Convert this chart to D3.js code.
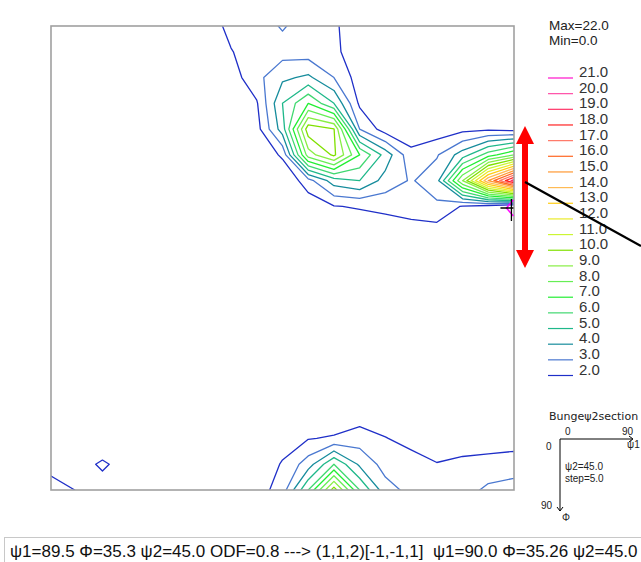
<!DOCTYPE html>
<html><head><meta charset="utf-8">
<script src="https://cdn.jsdelivr.net/npm/d3@7/dist/d3.min.js"></script>
<style>body{margin:0;background:#fff}svg{display:block}text{font-family:"Liberation Sans",Arial,sans-serif}</style>
</head><body>
<script>
// phi1 (columns, 0..90 step 5) and Phi (rows, 0..90 step 5)
const phi1Values = d3.range(0, 95, 5);
const PhiValues = d3.range(0, 95, 5);
// ODF section values (psi2 = 45), row = Phi, column = phi1
const odfRows = [
 [0.6,0.7,0.8,0.9,1.0,1.1,1.4,2.3,2.5,3.1,2.5,2.2,1.2,0.8,0.6,0.5,0.5,0.4,0.4],
 [0.6,0.6,0.7,0.8,0.9,1.0,1.2,1.95,2.5,2.6,2.5,2.3,1.2,0.8,0.6,0.5,0.5,0.4,0.4],
 [0.5,0.6,0.6,0.7,0.8,0.9,1.0,1.5,2.7,3.8,4.2,3.0,1.5,1.0,0.7,0.6,0.6,0.5,0.5],
 [0.5,0.5,0.6,0.6,0.7,0.8,0.9,1.0,1.9,5.0,7.0,5.0,1.8,1.2,1.0,1.0,1.1,1.2,1.3],
 [0.4,0.5,0.5,0.6,0.6,0.7,0.7,0.8,1.6,4.5,10.6,10.05,3.0,1.5,1.3,1.4,1.7,1.8,1.6],
 [0.4,0.4,0.5,0.5,0.5,0.6,0.6,0.6,1.0,2.2,8.5,10.2,7.0,4.6,2.3,2.9,4.5,6.5,8.0],
 [0.4,0.4,0.4,0.5,0.5,0.5,0.5,0.5,0.7,1.0,2.6,4.5,5.0,3.6,2.9,3.6,9.0,15.0,19.5],
 [0.4,0.4,0.4,0.4,0.5,0.5,0.5,0.5,0.5,0.7,1.3,1.95,2.1,2.3,2.7,2.8,1.9,1.5,0.8],
 [0.4,0.4,0.4,0.4,0.4,0.4,0.4,0.4,0.4,0.5,0.8,1.0,1.2,1.3,1.3,1.5,1.0,0.8,0.6],
 [0.4,0.4,0.4,0.4,0.4,0.4,0.4,0.4,0.4,0.4,0.5,0.6,0.7,0.8,0.8,0.8,0.7,0.6,0.5],
 [0.4,0.4,0.4,0.4,0.4,0.4,0.4,0.4,0.4,0.4,0.4,0.5,0.5,0.6,0.6,0.6,0.5,0.5,0.5],
 [0.4,0.4,0.4,0.4,0.4,0.4,0.4,0.4,0.4,0.4,0.4,0.4,0.5,0.5,0.5,0.5,0.5,0.5,0.5],
 [0.5,0.4,0.4,0.4,0.4,0.4,0.4,0.4,0.4,0.4,0.4,0.4,0.5,0.5,0.5,0.5,0.5,0.5,0.5],
 [0.5,0.5,0.5,0.4,0.4,0.4,0.4,0.4,0.4,0.4,0.5,0.5,0.5,0.5,0.5,0.5,0.5,0.5,0.6],
 [0.6,0.6,0.6,0.5,0.5,0.4,0.4,0.4,0.5,0.5,0.6,0.7,0.7,0.7,0.6,0.6,0.6,0.6,0.7],
 [0.7,0.7,0.7,0.6,0.5,0.5,0.5,0.5,0.6,0.8,1.0,1.3,1.4,1.2,1.0,0.9,0.9,0.9,1.0],
 [0.9,0.9,0.7,0.7,0.6,0.6,0.6,0.7,0.9,1.5,1.95,2.1,2.5,2.05,1.6,1.3,1.3,1.4,1.6],
 [1.5,1.3,2.25,1.3,0.8,0.7,0.7,0.8,1.2,2.1,3.5,6.0,3.8,2.6,2.5,2.05,2.3,2.4,2.4],
 [2.6,1.95,1.3,1.0,0.8,0.8,0.8,1.0,1.5,2.5,6.0,10.5,6.0,3.4,2.7,2.5,2.6,3.2,3.5]
];
const levels = [2,3,4,5,6,7,8,9,10,11,12,13,14,15,16,17,18,19,20,21];
const levelColors = ["#1f2fc8","#4a78d0","#168c9c","#1fb88a","#40d870","#22ee33","#66ee55","#88ee44","#80e000","#ccf533",
 "#eaea2a","#ffcc11","#ffbb55","#ff9933","#ff6622","#ff7766","#ff2222","#ff3366","#ff4da6","#ff11cc"];
const maxLabel = "Max=22.0", minLabel = "Min=0.0";
const statusText = "\u03c81=89.5 \u03a6=35.3 \u03c82=45.0 ODF=0.8 ---> (1,1,2)[-1,-1,1]  \u03c81=90.0 \u03a6=35.26 \u03c82=45.0";
const cursor = {phi1: 89.5, Phi: 35.3};

const W = 641, H = 562;
const svg = d3.select("body").append("svg").attr("width", W).attr("height", H);
const plot = {x0: 51, y0: 26, x1: 514, y1: 490};
const x = d3.scaleLinear().domain([0, 90]).range([plot.x0, plot.x1]);
const y = d3.scaleLinear().domain([0, 90]).range([plot.y0, plot.y1]);
const nx = phi1Values.length, ny = PhiValues.length;
const gx = d3.scaleLinear().domain([0.5, nx - 0.5]).range([plot.x0, plot.x1]);
const gy = d3.scaleLinear().domain([0.5, ny - 0.5]).range([plot.y0, plot.y1]);
const color = d3.scaleOrdinal().domain(levels).range(levelColors);

svg.append("clipPath").attr("id", "clip").append("rect")
  .attr("x", plot.x0).attr("y", plot.y0).attr("width", plot.x1 - plot.x0).attr("height", plot.y1 - plot.y0);

const flat = odfRows.flat();
const contours = d3.contours().size([nx, ny]).thresholds(levels).smooth(true)(flat);
const proj = d3.geoTransform({point: function(px, py) { this.stream.point(gx(px), gy(py)); }});
const path = d3.geoPath(proj);
svg.append("g").attr("clip-path", "url(#clip)")
  .selectAll("path").data(contours).join("path")
  .attr("d", path).attr("fill", "none")
  .attr("stroke", d => color(d.value)).attr("stroke-width", 1.3).attr("stroke-linejoin", "round");

// frame
svg.append("rect").attr("x", plot.x0).attr("y", plot.y0).attr("width", plot.x1 - plot.x0).attr("height", plot.y1 - plot.y0)
  .attr("fill", "none").attr("stroke", "#a0a0a0").attr("stroke-width", 1.6);

// cursor marker
const cx = x(cursor.phi1), cy = y(cursor.Phi);
svg.append("g").attr("clip-path", "url(#clip)").append("path")
  .attr("d", `M${cx+2},${cy-8}L${cx-5},${cy}L${cx+2},${cy+8}`).attr("fill", "none").attr("stroke", "#ff00ff").attr("stroke-width", 1.5);
svg.append("path").attr("d", `M${cx-11},${cy}H${cx+2}M${cx},${cy-9}V${cy+13}`).attr("stroke", "#000").attr("stroke-width", 1.3);

// legend
svg.append("text").attr("x", 549).attr("y", 30).attr("font-size", 13.5).attr("fill", "#222").text(maxLabel);
svg.append("text").attr("x", 549).attr("y", 45).attr("font-size", 13.5).attr("fill", "#222").text(minLabel);
const ly = d3.scaleLinear().domain([21, 2]).range([78, 375.5]);
const lg = svg.append("g").selectAll("g").data(levels).join("g");
lg.append("line").attr("x1", 548).attr("x2", 573).attr("y1", d => ly(d)).attr("y2", d => ly(d))
  .attr("stroke", d => color(d)).attr("stroke-width", 1.2);
lg.append("text").attr("x", 579).attr("y", d => ly(d) - 1).attr("font-size", 15).attr("fill", "#333")
  .text(d => d.toFixed(1));

// red double arrow and pointer line
svg.append("path").attr("d", "M525,126 L534,144 L528,144 L528,250 L534,250 L525,268 L516,250 L522,250 L522,144 L516,144 Z")
  .attr("fill", "#ff0000");
svg.append("line").attr("x1", 525).attr("y1", 182).attr("x2", 641).attr("y2", 246).attr("stroke", "#000").attr("stroke-width", 2.4);

// section key
const key = svg.append("g").attr("font-family", "DejaVu Sans, sans-serif").attr("font-size", 10).attr("fill", "#222");
key.append("text").attr("x", 549).attr("y", 420).text("Bunge\u03c82section").style("font-family", "DejaVu Sans").attr("font-size", 11);
key.append("text").attr("x", 565).attr("y", 435).text("0");
key.append("text").attr("x", 622).attr("y", 435).text("90");
key.append("text").attr("x", 546).attr("y", 450).text("0");
key.append("text").attr("x", 541).attr("y", 509).text("90");
key.append("text").attr("x", 562).attr("y", 521).text("\u03a6");
key.append("text").attr("x", 627).attr("y", 448).text("\u03c81");
key.append("text").attr("x", 565).attr("y", 470).text("\u03c82=45.0");
key.append("text").attr("x", 565).attr("y", 482).text("step=5.0");
svg.append("path").attr("d", "M632,439H560V511").attr("fill", "none").attr("stroke", "#000").attr("stroke-width", 1);
svg.append("path").attr("d", "M629,436L633,439L629,442M557,507L560,511L563,507").attr("fill", "none").attr("stroke", "#000").attr("stroke-width", 1);

// status bar
svg.append("rect").attr("x", 4.5).attr("y", 537.5).attr("width", 650).attr("height", 40).attr("fill", "#fff").attr("stroke", "#c8c8c8");
svg.append("text").attr("x", 10).attr("y", 557).attr("font-size", 17).attr("fill", "#111")
  .style("white-space", "pre").attr("xml:space", "preserve").text(statusText);
</script>
</body></html>
